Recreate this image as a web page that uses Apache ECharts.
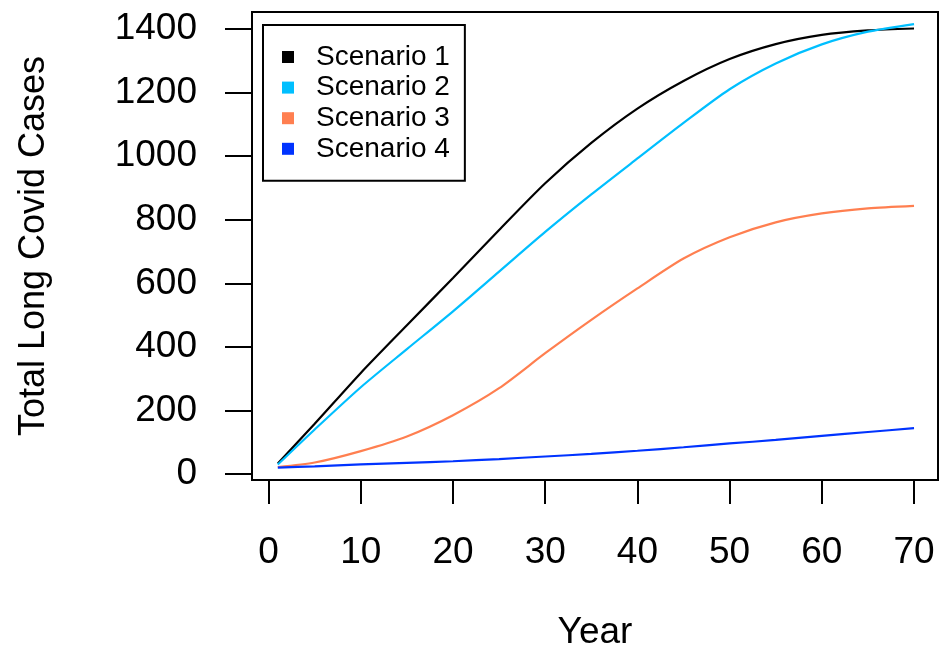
<!DOCTYPE html>
<html>
<head>
<meta charset="utf-8">
<script src="https://cdn.jsdelivr.net/npm/echarts@6/dist/echarts.min.js"></script>
<style>
  html, body { margin: 0; padding: 0; background: #fff; }
  #chart { width: 941px; height: 650px; }
</style>
</head>
<body>
<div id="chart"></div>
<script>
// years sampled along the curves
var years = [1, 5, 10, 15, 20, 25, 30, 35, 40, 45, 50, 55, 60, 65, 70];

var scenario1 = [33, 158, 318, 468, 617, 768, 915, 1042, 1150, 1237, 1306, 1353, 1382, 1396, 1402];
var scenario2 = [30, 140, 273, 393, 512, 637, 762, 880, 993, 1105, 1211, 1292, 1352, 1392, 1416];
var scenario3 = [22, 36, 72, 118, 185, 270, 380, 485, 584, 678, 745, 792, 820, 836, 844];
var scenario4 = [20, 24, 30, 35, 40, 47, 55, 63, 73, 84, 96, 107, 120, 132, 144];

var seriesNames = ['Scenario 1', 'Scenario 2', 'Scenario 3', 'Scenario 4'];
var xTicks = [0, 10, 20, 30, 40, 50, 60, 70];
var yTicks = [0, 200, 400, 600, 800, 1000, 1200, 1400];

var colors = ['#000000', '#00bfff', '#ff7f50', '#0033ff'];
var font = "'Liberation Sans', Arial, sans-serif";

function pairs(vals) {
    return years.map(function (y, i) { return [y, vals[i]]; });
}

var myChart = echarts.init(document.getElementById('chart'));

var option = {
    animation: false,
    backgroundColor: '#fff',
    grid: {
        left: 252,
        right: 3,
        top: 12,
        bottom: 170,
        outerBoundsMode: 'none',
        show: true,
        borderColor: '#000',
        borderWidth: 2
    },
    legend: {
        orient: 'vertical',
        left: 263,
        top: 25,
        padding: [17, 15, 17, 19],
        borderColor: '#000',
        borderWidth: 2,
        icon: 'rect',
        itemWidth: 12,
        itemHeight: 12,
        itemGap: 0.6,
        textStyle: {
            fontFamily: font,
            fontSize: 28,
            lineHeight: 30,
            color: '#000',
            padding: [0, 0, 0, 17]
        },
        data: seriesNames
    },
    xAxis: {
        type: 'value',
        min: -1.8,
        max: 72.6,
        name: 'Year',
        nameLocation: 'middle',
        nameGap: 134,
        nameTextStyle: { fontFamily: font, fontSize: 37, color: '#000' },
        axisLine: { show: false, onZero: false },
        splitLine: { show: false },
        axisTick: {
            show: true,
            length: 24,
            customValues: xTicks,
            lineStyle: { color: '#000', width: 2 }
        },
        axisLabel: {
            fontFamily: font,
            fontSize: 37,
            color: '#000',
            margin: 54,
            customValues: xTicks,
            formatter: function (v) { return String(v); }
        }
    },
    yAxis: {
        type: 'value',
        min: -19,
        max: 1454,
        name: 'Total Long Covid Cases',
        nameLocation: 'middle',
        nameGap: 200,
        nameTextStyle: { fontFamily: font, fontSize: 36, color: '#000' },
        axisLine: { show: false, onZero: false },
        splitLine: { show: false },
        axisTick: {
            show: true,
            length: 27,
            customValues: yTicks,
            lineStyle: { color: '#000', width: 2 }
        },
        axisLabel: {
            fontFamily: font,
            fontSize: 37,
            color: '#000',
            margin: 55,
            customValues: yTicks,
            formatter: function (v) { return String(v); }
        }
    },
    series: [scenario1, scenario2, scenario3, scenario4].map(function (vals, i) {
        return {
            name: seriesNames[i],
            type: 'line',
            data: pairs(vals),
            showSymbol: false,
            smooth: 0.25,
            color: colors[i],
            lineStyle: { color: colors[i], width: 2.2 }
        };
    })
};
myChart.setOption(option);
</script>
</body>
</html>
